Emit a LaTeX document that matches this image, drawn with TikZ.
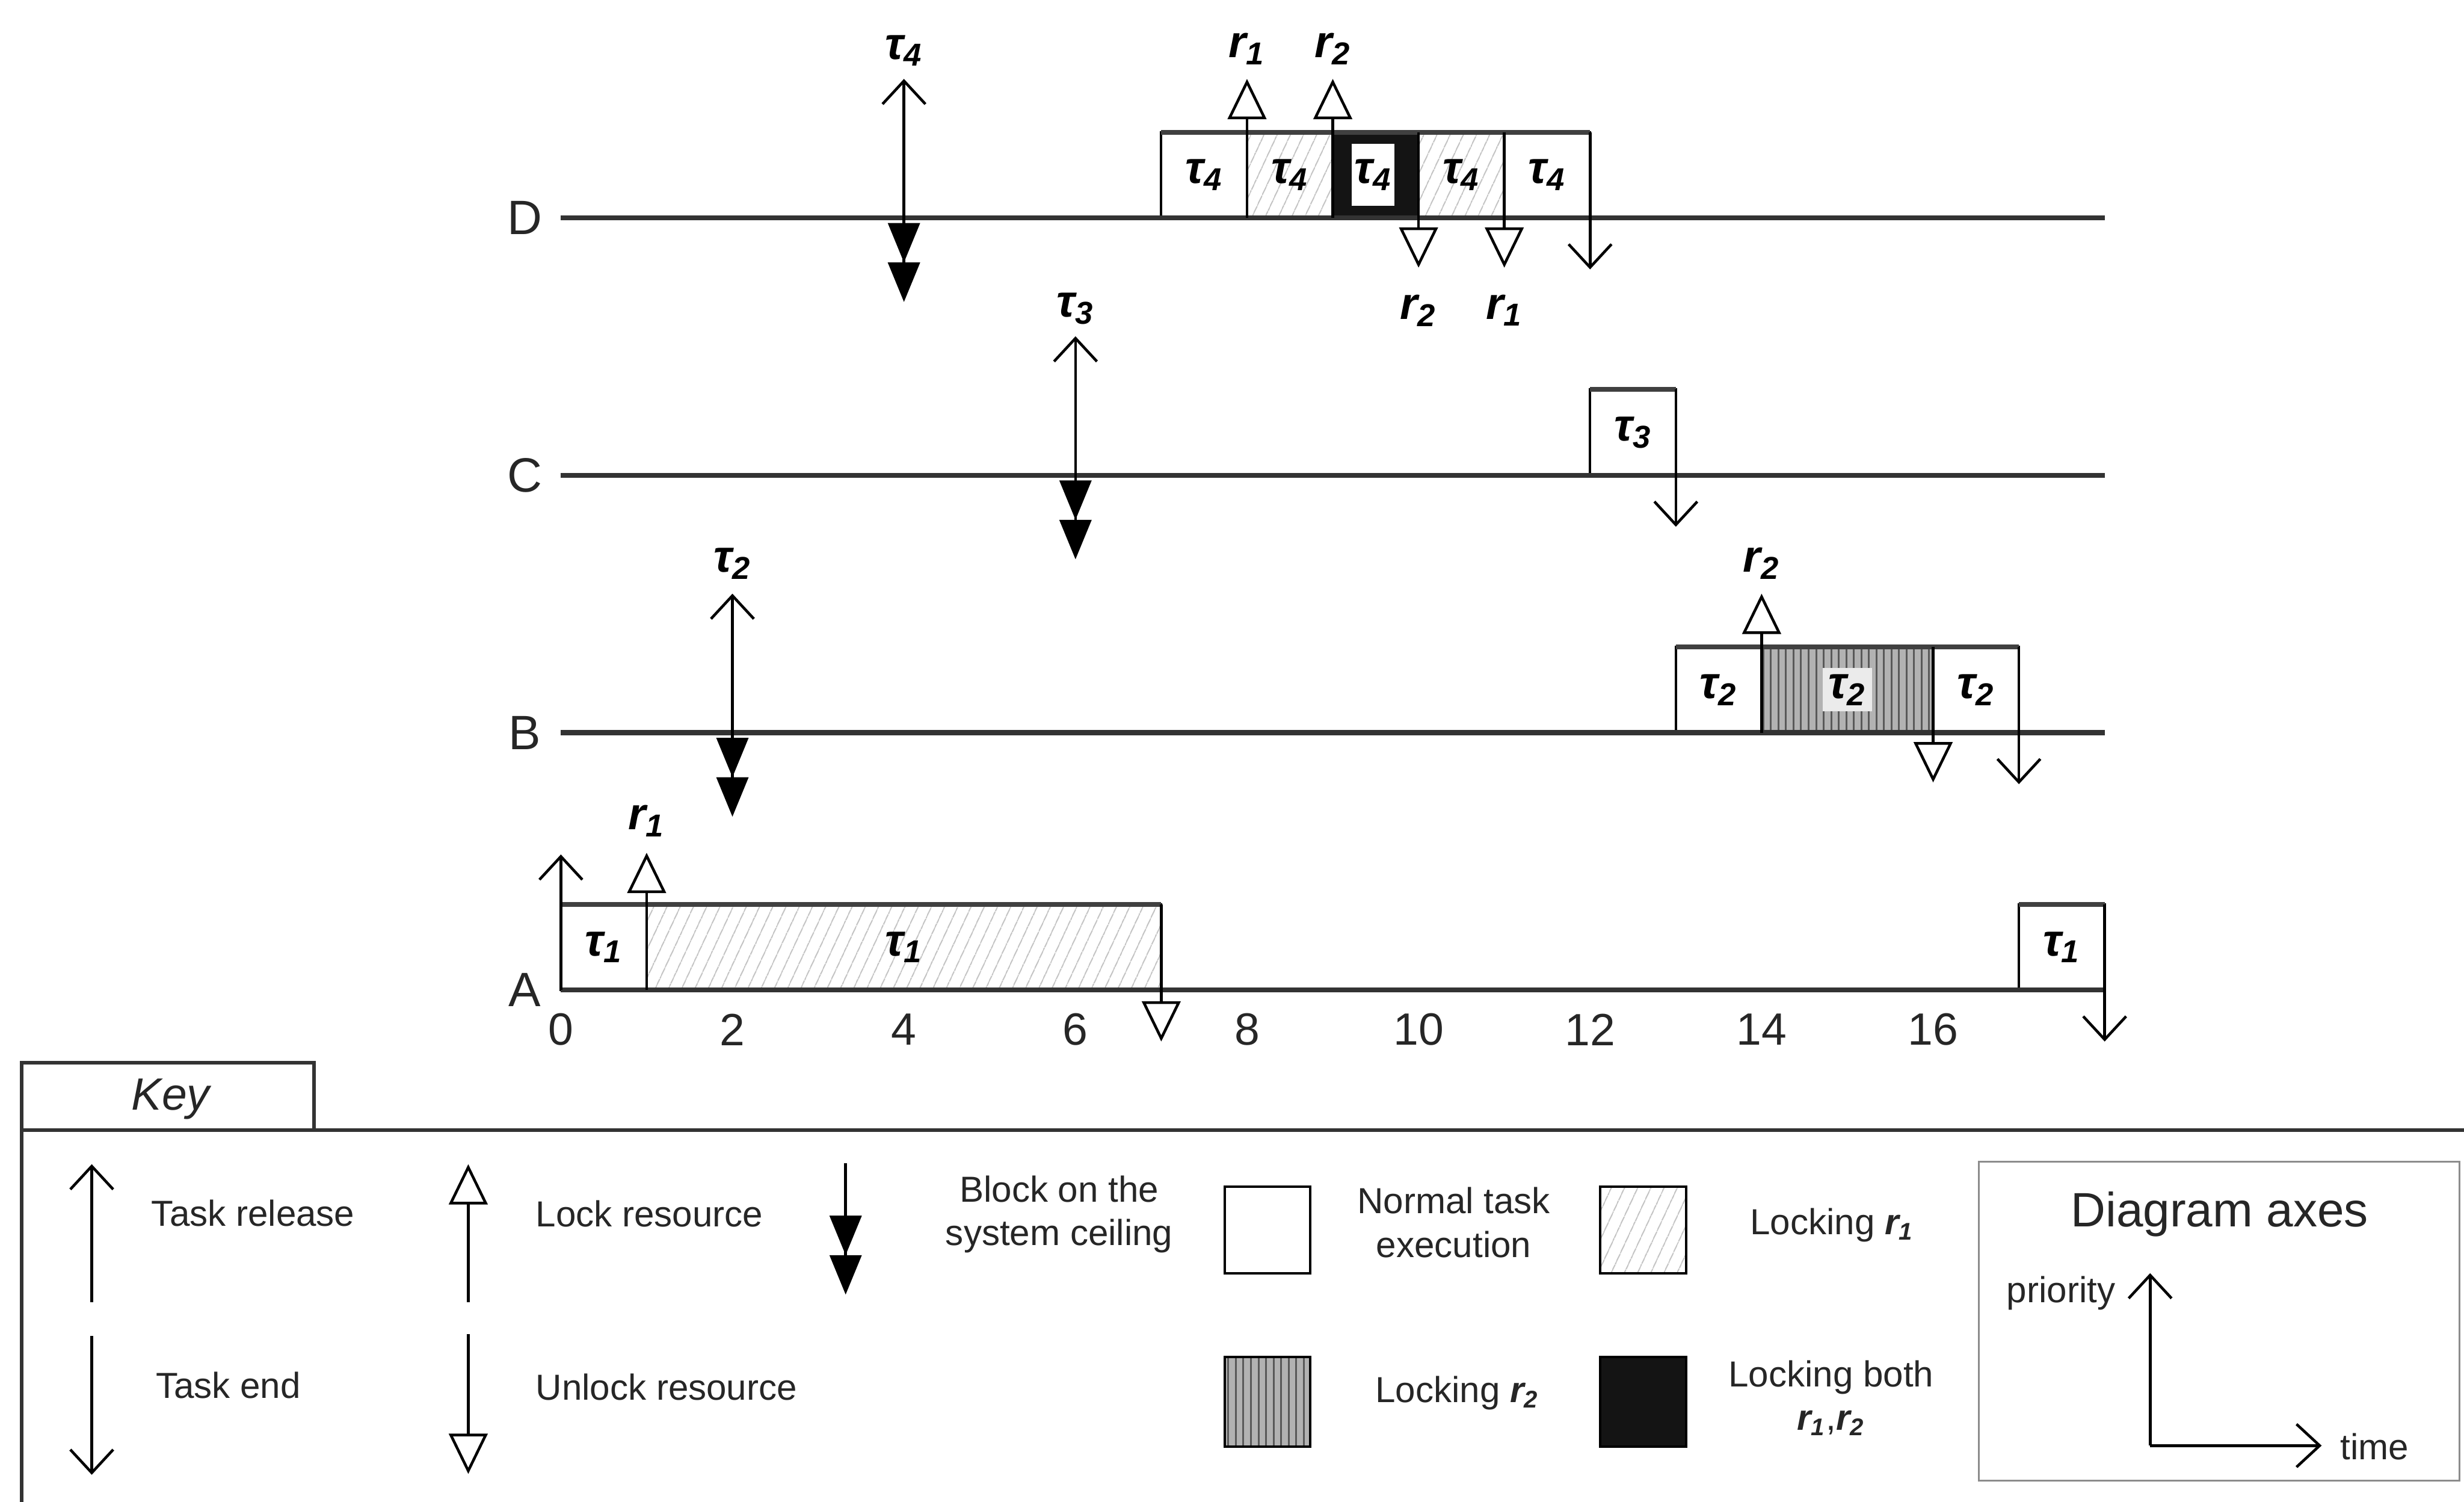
\documentclass[tikz,border=0pt]{standalone}
\usepackage{fontspec}
\setmainfont{Liberation Sans}
\usetikzlibrary{arrows.meta,patterns.meta}

% task and resource symbols
\newcommand{\tk}[1]{{\bfseries\itshape τ\textsubscript{#1}}}
\newcommand{\rsrc}[1]{{\bfseries\itshape r\textsubscript{#1}}}

\tikzset{
  timeline/.style={line width=1.7pt, black!80},
  slot/.style={draw=black, line width=0.8pt, fill=white},
  slottop/.style={line width=1.6pt, black!75},
  rone/.style={pattern={Lines[angle=65,distance=4pt,line width=0.4pt]}, pattern color=black!28},
  rtwo/.style={preaction={fill=black!30}, pattern={Lines[angle=90,distance=2.5pt,line width=0.6pt]}, pattern color=black!65},
  both/.style={fill=black!92},
  release/.style={line width=0.9pt, -{Straight Barb[length=0.27cm,width=0.5cm]}},
  lockres/.style={line width=0.9pt, -{Triangle[open,fill=white,length=0.47cm,width=0.45cm]}},
  blocked/.style={line width=0.9pt, -{Triangle[length=0.46cm,width=0.37cm,sep=0pt]Triangle[length=0.46cm,width=0.37cm,sep=0pt]}},
  tasklbl/.style={font=\fontsize{15}{18}\selectfont, text=black, inner sep=0pt},
  ticklbl/.style={font=\fontsize{15}{18}\selectfont, text=black!85},
  rowlbl/.style={font=\fontsize{16}{19}\selectfont, text=black!85},
  keytxt/.style={font=\fontsize{12}{14.5}\selectfont, text=black!85, align=center, inner sep=0pt},
  keyframe/.style={line width=1.2pt, black!80},
}

\begin{document}
\begin{tikzpicture}
\useasboundingbox (-6.54,-5.966) rectangle (22.19,11.54);
\fill[white] (-6.54,-5.966) rectangle (22.19,11.54);

% ---------- execution slots ----------
% task D
\draw[slot] (7,9) rectangle (8,10);
\draw[slot,rone] (8,9) rectangle (9,10);
\fill[both] (9,9) rectangle (10,10);
\fill[white] (9.22,9.14) rectangle (9.72,9.86);
\draw[slot,rone] (10,9) rectangle (11,10);
\draw[slot] (11,9) rectangle (12,10);
\draw[slottop] (7,10) -- (12,10);
% task C
\draw[slot] (12,6) rectangle (13,7);
\draw[slottop] (12,7) -- (13,7);
% task B
\draw[slot] (13,3) rectangle (14,4);
\draw[slot,rtwo] (14,3) rectangle (16,4);
\draw[slot] (16,3) rectangle (17,4);
\draw[slottop] (13,4) -- (17,4);
% task A
\draw[slot] (0,0) rectangle (1,1);
\draw[slot,rone] (1,0) rectangle (7,1);
\draw[slot] (17,0) rectangle (18,1);
\draw[slottop] (0,1) -- (7,1);
\draw[slottop] (17,1) -- (18,1);

% ---------- priority levels ----------
\foreach \y/\n in {9/D,6/C,3/B,0/A}{
  \coordinate (\n0) at (0,\y);
  \coordinate (\n1) at (18,\y);
  \draw[timeline] (\n0) -- (\n1);
  \node[rowlbl] (lbl\n) at (-0.42,\y) {\n};
}
\foreach \t in {0,2,...,16}
  \node[ticklbl] (tick\t) at (\t,-0.46) {\t};

% ---------- slot labels ----------
\node[tasklbl] (d1) at (7.5,9.5) {\tk4};
\node[tasklbl] (d2) at (8.5,9.5) {\tk4};
\node[tasklbl] (d3) at (9.47,9.5) {\tk4};
\node[tasklbl] (d4) at (10.5,9.5) {\tk4};
\node[tasklbl] (d5) at (11.5,9.5) {\tk4};
\node[tasklbl] (c1) at (12.5,6.5) {\tk3};
\node[tasklbl] (b1) at (13.5,3.5) {\tk2};
\node[tasklbl,fill=black!8,inner sep=2pt] (b2) at (15,3.5) {\tk2};
\node[tasklbl] (b3) at (16.5,3.5) {\tk2};
\node[tasklbl] (a1) at (0.5,0.5) {\tk1};
\node[tasklbl] (a2) at (4,0.5) {\tk1};
\node[tasklbl] (a3) at (17.5,0.5) {\tk1};

% ---------- releases and blocking ----------
\draw[release] (4,9) -- (4,10.62);
\draw[blocked] (4,9) -- (4,8.02);
\node[tasklbl] (relD) at (4,10.95) {\tk4};
\draw[release] (6,6) -- (6,7.62);
\draw[blocked] (6,6) -- (6,5.02);
\node[tasklbl] (relC) at (6,7.94) {\tk3};
\draw[release] (2,3) -- (2,4.62);
\draw[blocked] (2,3) -- (2,2.02);
\node[tasklbl] (relB) at (2,4.97) {\tk2};
\draw[release] (0,0) -- (0,1.58);

% ---------- resource locks ----------
\draw[lockres] (8,9) -- (8,10.62);
\node[tasklbl] (lkD1) at (8,10.97) {\rsrc1};
\draw[lockres] (9,9) -- (9,10.62);
\node[tasklbl] (lkD2) at (9,10.97) {\rsrc2};
\draw[lockres] (14,3) -- (14,4.62);
\node[tasklbl] (lkB2) at (14,4.97) {\rsrc2};
\draw[lockres] (1,0) -- (1,1.6);
\node[tasklbl] (lkA1) at (1,1.97) {\rsrc1};

% ---------- resource unlocks ----------
\draw[lockres] (10,10) -- (10,8.42);
\node[tasklbl] (ulD2) at (10,7.92) {\rsrc2};
\draw[lockres] (11,10) -- (11,8.42);
\node[tasklbl] (ulD1) at (11,7.92) {\rsrc1};
\draw[lockres] (16,4) -- (16,2.42);
\draw[lockres] (7,1) -- (7,-0.6);

% ---------- task ends ----------
\draw[release] (12,10) -- (12,8.4);
\draw[release] (13,7) -- (13,5.4);
\draw[release] (17,4) -- (17,2.4);
\draw[release] (18,1) -- (18,-0.6);

% ---------- key ----------
\draw[keyframe] (-6.29,-6.2) -- (-6.29,-0.845) -- (-2.88,-0.845) -- (-2.88,-1.635);
\draw[keyframe] (-6.29,-1.635) -- (22.4,-1.635);
\node[font=\fontsize{15}{18}\selectfont\itshape, text=black!85] (keyttl) at (-4.55,-1.27) {Key};

\draw[release] (-5.47,-3.64) -- (-5.47,-2.03);
\node[keytxt,anchor=west] (kRel) at (-4.78,-2.60) {Task release};
\draw[release] (-5.47,-4.03) -- (-5.47,-5.65);
\node[keytxt,anchor=west] (kEnd) at (-4.73,-4.61) {Task end};

\draw[lockres] (-1.08,-3.64) -- (-1.08,-2.03);
\node[keytxt,anchor=west] (kLock) at (-0.30,-2.61) {Lock resource};
\draw[lockres] (-1.08,-4.01) -- (-1.08,-5.64);
\node[keytxt,anchor=west] (kUnl) at (-0.30,-4.63) {Unlock resource};

\draw[blocked] (3.32,-2.02) -- (3.32,-3.55);
\node[keytxt] (kBlk) at (5.81,-2.615) {Block on the\\system ceiling};

\draw[slot] (7.74,-3.30) rectangle (8.74,-2.29);
\node[keytxt] (kNorm) at (10.41,-2.71) {Normal task\\execution};
\draw[slot,rone] (12.12,-3.30) rectangle (13.12,-2.29);
\node[keytxt,anchor=west] (kR1) at (13.86,-2.74) {Locking \rsrc1};
\draw[slot,rtwo] (7.74,-5.32) rectangle (8.74,-4.28);
\node[keytxt,anchor=west] (kR2) at (9.49,-4.70) {Locking \rsrc2};
\draw[slot,both] (12.12,-5.32) rectangle (13.12,-4.28);
\node[keytxt] (kBoth) at (14.81,-4.755) {Locking both\\\rsrc1,\rsrc2};

% diagram axes panel
\draw[black!45, line width=0.6pt] (16.53,-5.72) rectangle (22.14,-2.0);
\node[font=\fontsize{16}{19}\selectfont, text=black!85] (kAx) at (19.34,-2.61) {Diagram axes};
\coordinate (origin) at (18.53,-5.31);
\coordinate (prioTip) at (18.53,-3.30);
\coordinate (timeTip) at (20.53,-5.31);
\draw[release] (origin) -- (prioTip);
\draw[release] (origin) -- (timeTip);
\node[keytxt,anchor=east] (kPrio) at (18.13,-3.53) {priority};
\node[keytxt,anchor=west] (kTime) at (20.74,-5.32) {time};
\end{tikzpicture}
\end{document}
